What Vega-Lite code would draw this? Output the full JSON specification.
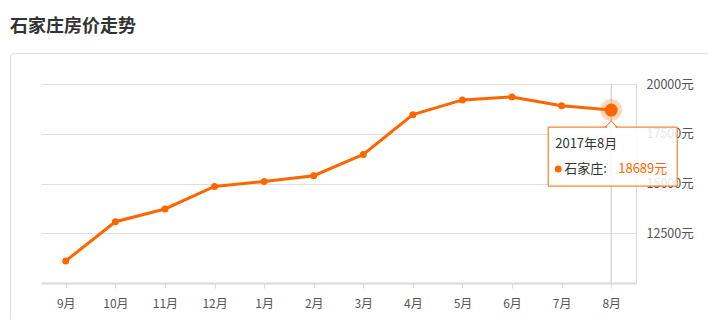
{
  "$schema": "https://vega.github.io/schema/vega-lite/v6.json",
  "autosize": "none",
  "padding": {"left": 10, "top": 53, "right": 0, "bottom": 0},
  "width": 700,
  "height": 270,
  "background": "white",
  "config": {
    "font": "Noto Sans CJK SC",
    "view": {"stroke": "#dddddd", "cornerRadius": 4, "fill": "white"}
  },
  "title": {
    "text": "石家庄房价走势",
    "anchor": "start",
    "frame": "group",
    "fontSize": 18,
    "fontWeight": "bold",
    "color": "#333333",
    "font": "Noto Sans CJK SC",
    "baseline": "bottom",
    "offset": -1
  },
  "resolve": {"axis": {"y": "independent"}},
  "datasets": {
    "prices": [
      {"month": "9月", "value": 11110},
      {"month": "10月", "value": 13080},
      {"month": "11月", "value": 13720},
      {"month": "12月", "value": 14850},
      {"month": "1月", "value": 15100},
      {"month": "2月", "value": 15390},
      {"month": "3月", "value": 16460},
      {"month": "4月", "value": 18460},
      {"month": "5月", "value": 19200},
      {"month": "6月", "value": 19350},
      {"month": "7月", "value": 18910},
      {"month": "8月", "value": 18689}
    ],
    "hover": [
      {"month": "8月", "value": 18689, "date": "2017年8月", "city": "石家庄:", "label": "18689元"}
    ]
  },
  "layer": [
    {
      "data": {"name": "prices"},
      "mark": {"type": "circle", "color": "#ff6600", "opacity": 0, "size": 1},
      "encoding": {
        "x": {
          "field": "month",
          "type": "nominal",
          "scale": {
            "type": "point",
            "padding": 0.5,
            "range": [31, 626],
            "domain": ["9月", "10月", "11月", "12月", "1月", "2月", "3月", "4月", "5月", "6月", "7月", "8月"]
          },
          "axis": {
            "title": null,
            "orient": "bottom",
            "offset": -40,
            "labelAngle": 0,
            "domainColor": "#d9d9d9",
            "domainWidth": 2,
            "tickColor": "#d9d9d9",
            "tickSize": 5,
            "labelColor": "#555555",
            "labelFontSize": 12,
            "labelPadding": 10,
            "grid": false
          }
        },
        "y": {
          "field": "value",
          "type": "quantitative",
          "scale": {"domain": [10000, 20000], "range": [230, 31], "nice": false, "zero": false},
          "axis": {
            "title": null,
            "orient": "left",
            "offset": 0,
            "values": [12500, 15000, 17500, 20000],
            "labels": false,
            "domain": false,
            "ticks": false,
            "gridColor": "#e0e0e0",
            "grid": true
          }
        }
      }
    },
    {
      "data": {"name": "hover"},
      "mark": {"type": "rule", "color": "#c8c8c8", "strokeWidth": 1},
      "encoding": {
        "x": {"field": "month", "type": "nominal"},
        "y": {"datum": 20000, "type": "quantitative", "axis": null},
        "y2": {"datum": 10000}
      }
    },
    {
      "data": {"name": "prices"},
      "mark": {"type": "line", "color": "#ff6600", "strokeWidth": 3},
      "encoding": {
        "x": {"field": "month", "type": "nominal"},
        "y": {
          "field": "value",
          "type": "quantitative",
          "axis": {
            "title": null,
            "orient": "right",
            "offset": -74,
            "values": [10000, 12500, 15000, 17500, 20000],
            "labelExpr": "datum.value == 10000 ? '' : datum.value + '元'",
            "domainColor": "#d9d9d9",
            "ticks": false,
            "labelPadding": 10,
            "labelColor": "#555555",
            "labelFontSize": 12.5,
            "grid": false
          }
        }
      }
    },
    {
      "data": {"name": "prices"},
      "mark": {"type": "circle", "color": "#ff6600", "opacity": 1, "size": 49},
      "encoding": {
        "x": {"field": "month", "type": "nominal"},
        "y": {"field": "value", "type": "quantitative", "axis": null}
      }
    },
    {
      "data": {"name": "hover"},
      "mark": {"type": "circle", "color": "#ff6600", "opacity": 0.25, "size": 484},
      "encoding": {
        "x": {"field": "month", "type": "nominal"},
        "y": {"field": "value", "type": "quantitative", "axis": null}
      }
    },
    {
      "data": {"name": "hover"},
      "mark": {"type": "circle", "color": "#ff6600", "opacity": 1, "size": 169},
      "encoding": {
        "x": {"field": "month", "type": "nominal"},
        "y": {"field": "value", "type": "quantitative", "axis": null}
      }
    },
    {
      "data": {"name": "hover"},
      "mark": {
        "type": "point",
        "shape": "M-1,-0.457L1,-0.457L1,0.457L-1,0.457Z",
        "size": 16641,
        "filled": false,
        "fill": "white",
        "fillOpacity": 0.85,
        "stroke": "#ff6600",
        "strokeWidth": 1,
        "opacity": 1,
        "xOffset": 1.5,
        "yOffset": 46.5
      },
      "encoding": {
        "x": {"field": "month", "type": "nominal"},
        "y": {"field": "value", "type": "quantitative", "axis": null}
      }
    },
    {
      "data": {"name": "hover"},
      "mark": {
        "type": "point",
        "shape": "M-1,0.5L0,-0.5L1,0.5Z",
        "size": 144,
        "filled": false,
        "fill": "white",
        "fillOpacity": 1,
        "stroke": "#ff6600",
        "strokeWidth": 1,
        "opacity": 1,
        "yOffset": 14
      },
      "encoding": {
        "x": {"field": "month", "type": "nominal"},
        "y": {"field": "value", "type": "quantitative", "axis": null}
      }
    },
    {
      "data": {"name": "hover"},
      "mark": {
        "type": "point",
        "shape": "M-0.8,0.65L0,-0.25L0.8,0.65Z",
        "size": 144,
        "filled": true,
        "fill": "white",
        "fillOpacity": 1,
        "strokeWidth": 0,
        "opacity": 1,
        "yOffset": 14
      },
      "encoding": {
        "x": {"field": "month", "type": "nominal"},
        "y": {"field": "value", "type": "quantitative", "axis": null}
      }
    },
    {
      "data": {"name": "hover"},
      "mark": {"type": "text", "align": "left", "baseline": "middle", "dx": -56, "dy": 34, "fontSize": 13, "color": "#333333"},
      "encoding": {
        "x": {"field": "month", "type": "nominal"},
        "y": {"field": "value", "type": "quantitative", "axis": null},
        "text": {"field": "date"}
      }
    },
    {
      "data": {"name": "hover"},
      "mark": {"type": "circle", "color": "#ff6600", "opacity": 1, "size": 49, "xOffset": -53, "yOffset": 59},
      "encoding": {
        "x": {"field": "month", "type": "nominal"},
        "y": {"field": "value", "type": "quantitative", "axis": null}
      }
    },
    {
      "data": {"name": "hover"},
      "mark": {"type": "text", "align": "left", "baseline": "middle", "dx": -47, "dy": 59, "fontSize": 13, "color": "#333333"},
      "encoding": {
        "x": {"field": "month", "type": "nominal"},
        "y": {"field": "value", "type": "quantitative", "axis": null},
        "text": {"field": "city"}
      }
    },
    {
      "data": {"name": "hover"},
      "mark": {"type": "text", "align": "left", "baseline": "middle", "dx": 7, "dy": 59, "fontSize": 13, "color": "#ff6600"},
      "encoding": {
        "x": {"field": "month", "type": "nominal"},
        "y": {"field": "value", "type": "quantitative", "axis": null},
        "text": {"field": "label"}
      }
    }
  ]
}
